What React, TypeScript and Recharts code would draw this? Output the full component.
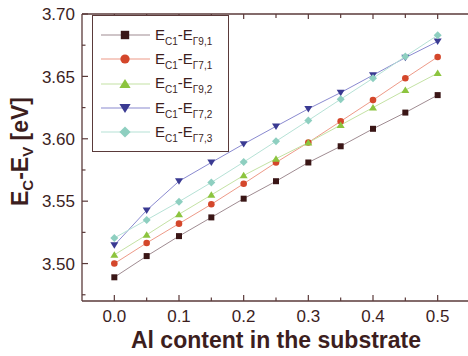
import React from "react";
import { LineChart, Line, XAxis, YAxis, Legend } from "recharts";

const alContent = [0, 0.05, 0.1, 0.15, 0.2, 0.25, 0.3, 0.35, 0.4, 0.45, 0.5];
const g91 = [3.489, 3.506, 3.522, 3.537, 3.552, 3.566, 3.581, 3.594, 3.608, 3.621, 3.635];
const g71 = [3.5, 3.5165, 3.532, 3.5475, 3.564, 3.581, 3.597, 3.614, 3.631, 3.6485, 3.6656];
const g92 = [3.507, 3.523, 3.5395, 3.555, 3.5706, 3.584, 3.597, 3.611, 3.625, 3.639, 3.6526];
const g72 = [3.5147, 3.5427, 3.566, 3.581, 3.5958, 3.61, 3.624, 3.637, 3.651, 3.665, 3.678];
const g73 = [3.5205, 3.535, 3.5496, 3.565, 3.5813, 3.598, 3.6147, 3.6317, 3.6485, 3.666, 3.683];

const xTicks = [0, 0.05, 0.1, 0.15, 0.2, 0.25, 0.3, 0.35, 0.4, 0.45, 0.5];
const xMajor = [0, 0.1, 0.2, 0.3, 0.4, 0.5];
const yTicks = [3.475, 3.5, 3.525, 3.55, 3.575, 3.6, 3.625, 3.65, 3.675, 3.7];
const yMajor = [3.5, 3.55, 3.6, 3.65, 3.7];

const seriesKeys = ["g91", "g71", "g92", "g72", "g73"];
const seriesSubs = ["Γ9,1", "Γ7,1", "Γ9,2", "Γ7,2", "Γ7,3"];
const markerColors = ["#3a1616", "#d4472b", "#8cc43e", "#3a3a92", "#8ecfc0"];
const lineColors = ["#a08c92", "#ee9a88", "#c4e2a4", "#8a8ad0", "#b6e2d6"];
const shapes = ["square", "circle", "triangle", "down", "diamond"];

const data = alContent.map((x, i) => ({
  x,
  g91: g91[i],
  g71: g71[i],
  g92: g92[i],
  g72: g72[i],
  g73: g73[i],
}));

const AXIS = "#5a3a3a";
const TEXT = "#3c1e1e";
const FONT = "'Liberation Sans', Arial, Helvetica, sans-serif";

function Marker({ shape, cx, cy, color, s }: any) {
  if (shape === "square") {
    return <rect x={cx - 3 * s} y={cy - 3 * s} width={6 * s} height={6 * s} fill={color} />;
  }
  if (shape === "circle") {
    return <circle cx={cx} cy={cy} r={3.3 * s} fill={color} />;
  }
  if (shape === "triangle") {
    const h = 3.6 * s;
    return (
      <path
        d={`M${cx},${cy - h} L${cx + 4 * s},${cy + h * 0.8} L${cx - 4 * s},${cy + h * 0.8} Z`}
        fill={color}
      />
    );
  }
  if (shape === "down") {
    const h = 3.6 * s;
    return (
      <path
        d={`M${cx},${cy + h} L${cx + 4 * s},${cy - h * 0.8} L${cx - 4 * s},${cy - h * 0.8} Z`}
        fill={color}
      />
    );
  }
  const d = 4 * s;
  return (
    <path d={`M${cx},${cy - d} L${cx + d},${cy} L${cx},${cy + d} L${cx - d},${cy} Z`} fill={color} />
  );
}

const makeDot = (idx: number) => (props: any) => {
  const { cx, cy, index } = props;
  if (cx == null || cy == null) return <g key={`d${idx}-${index}`} />;
  return (
    <g key={`d${idx}-${index}`}>
      <Marker shape={shapes[idx]} cx={cx} cy={cy} color={markerColors[idx]} s={1} />
    </g>
  );
};

const isMajor = (v: number, list: number[]) => list.some((m) => Math.abs(m - v) < 1e-6);

const BottomTick = (props: any) => {
  const { x, y, payload } = props;
  const major = isMajor(payload.value, xMajor);
  return (
    <g>
      <line x1={x} x2={x} y1={y} y2={y - (major ? 6 : 3.5)} stroke={AXIS} strokeWidth={1.2} />
      {major && (
        <text x={x} y={y + 21} textAnchor="middle" fill={TEXT} fontSize={17} fontFamily={FONT}>
          {payload.value.toFixed(1)}
        </text>
      )}
    </g>
  );
};

const TopTick = (props: any) => {
  const { x, y, payload } = props;
  const major = isMajor(payload.value, xMajor);
  return <line x1={x} x2={x} y1={y} y2={y + (major ? 5 : 4)} stroke={AXIS} strokeWidth={1.2} />;
};

const LeftTick = (props: any) => {
  const { x, y, payload } = props;
  const major = isMajor(payload.value, yMajor);
  return (
    <g>
      <line x1={x} x2={x + (major ? 6 : 3.5)} y1={y} y2={y} stroke={AXIS} strokeWidth={1.2} />
      {major && (
        <text x={x - 7} y={y} dy="0.36em" textAnchor="end" fill={TEXT} fontSize={17} fontFamily={FONT}>
          {payload.value.toFixed(2)}
        </text>
      )}
    </g>
  );
};

const RightTick = (props: any) => {
  const { x, y, payload } = props;
  const major = isMajor(payload.value, yMajor);
  return <line x1={x} x2={x - (major ? 6 : 3.5)} y1={y} y2={y} stroke={AXIS} strokeWidth={1.2} />;
};

const XLabel = (props: any) => {
  const vb = props.viewBox;
  return (
    <text
      x={vb.x + vb.width / 2}
      y={vb.y + vb.height - 8}
      textAnchor="middle"
      fill={TEXT}
      fontSize={23}
      fontWeight="bold"
      fontFamily={FONT}
    >
      Al content in the substrate
    </text>
  );
};

const YLabel = (props: any) => {
  const vb = props.viewBox;
  const cx = vb.x + 28;
  const cy = vb.y + vb.height / 2 - 6;
  return (
    <text
      x={cx}
      y={cy}
      transform={`rotate(-90 ${cx} ${cy})`}
      textAnchor="middle"
      fill={TEXT}
      fontSize={23}
      fontWeight="bold"
      fontFamily={FONT}
    >
      <tspan>E</tspan>
      <tspan dy={5} fontSize={15}>C</tspan>
      <tspan dy={-5}>-E</tspan>
      <tspan dy={5} fontSize={15}>V</tspan>
      <tspan dy={-5}> [eV]</tspan>
    </text>
  );
};

const LegendContent = () => (
  <div style={{ paddingTop: 7, fontFamily: FONT, color: TEXT }}>
    {seriesKeys.map((k, i) => (
      <div key={k} style={{ display: "flex", alignItems: "center", height: 24.3 }}>
        <svg width={62} height={24} style={{ display: "block" }}>
          <line x1={8} x2={57} y1={12} y2={12} stroke={lineColors[i]} strokeWidth={1.2} />
          <Marker shape={shapes[i]} cx={32} cy={12} color={markerColors[i]} s={1.4} />
        </svg>
        <span style={{ fontSize: 15, lineHeight: "15px", whiteSpace: "nowrap" }}>
          E<span style={{ fontSize: 10, position: "relative", top: 5 }}>C1</span>-E
          <span style={{ fontSize: 10, position: "relative", top: 5 }}>{seriesSubs[i]}</span>
        </span>
      </div>
    ))}
  </div>
);

export default function App() {
  return (
    <div style={{ position: "absolute", left: 0, top: 0, width: 468, height: 356, overflow: "hidden", background: "#fff" }}>
      <LineChart width={470} height={356} data={data} margin={{ top: 0, right: 0, bottom: 0, left: 0 }}>
        <XAxis
          xAxisId="b"
          dataKey="x"
          type="number"
          domain={[-0.05, 0.55]}
          ticks={xTicks}
          interval={0}
          height={55}
          tickSize={0}
          tickMargin={0}
          tickLine={false}
          tick={<BottomTick />}
          axisLine={{ stroke: AXIS, strokeWidth: 1.3 }}
          allowDataOverflow
          label={<XLabel />}
        />
        <XAxis
          xAxisId="t"
          dataKey="x"
          type="number"
          orientation="top"
          domain={[-0.05, 0.55]}
          ticks={xTicks}
          interval={0}
          height={14}
          tickSize={0}
          tickMargin={0}
          tickLine={false}
          tick={<TopTick />}
          axisLine={{ stroke: AXIS, strokeWidth: 1.3 }}
          allowDataOverflow
        />
        <YAxis
          yAxisId="l"
          type="number"
          domain={[3.47, 3.7]}
          ticks={yTicks}
          interval={0}
          width={82}
          tickSize={0}
          tickMargin={0}
          tickLine={false}
          tick={<LeftTick />}
          axisLine={{ stroke: AXIS, strokeWidth: 1.3 }}
          allowDataOverflow
          label={<YLabel />}
        />
        <YAxis
          yAxisId="r"
          orientation="right"
          type="number"
          domain={[3.47, 3.7]}
          ticks={yTicks}
          interval={0}
          width={0}
          tickSize={0}
          tickMargin={0}
          tickLine={false}
          tick={<RightTick />}
          axisLine={{ stroke: AXIS, strokeWidth: 1.3 }}
          allowDataOverflow
        />
        {seriesKeys.map((k, i) => (
          <Line
            key={k}
            xAxisId="b"
            yAxisId="l"
            dataKey={k}
            type="linear"
            stroke={lineColors[i]}
            strokeWidth={1}
            dot={makeDot(i)}
            activeDot={false}
            isAnimationActive={false}
          />
        ))}
        <Legend
          layout="vertical"
          align="center"
          verticalAlign="middle"
          content={<LegendContent />}
          wrapperStyle={{
            position: "absolute",
            left: 92,
            top: 15,
            width: 137,
            height: 137,
            border: `1.2px solid ${AXIS}`,
            background: "#fff",
            boxSizing: "border-box",
          }}
        />
      </LineChart>
    </div>
  );
}
